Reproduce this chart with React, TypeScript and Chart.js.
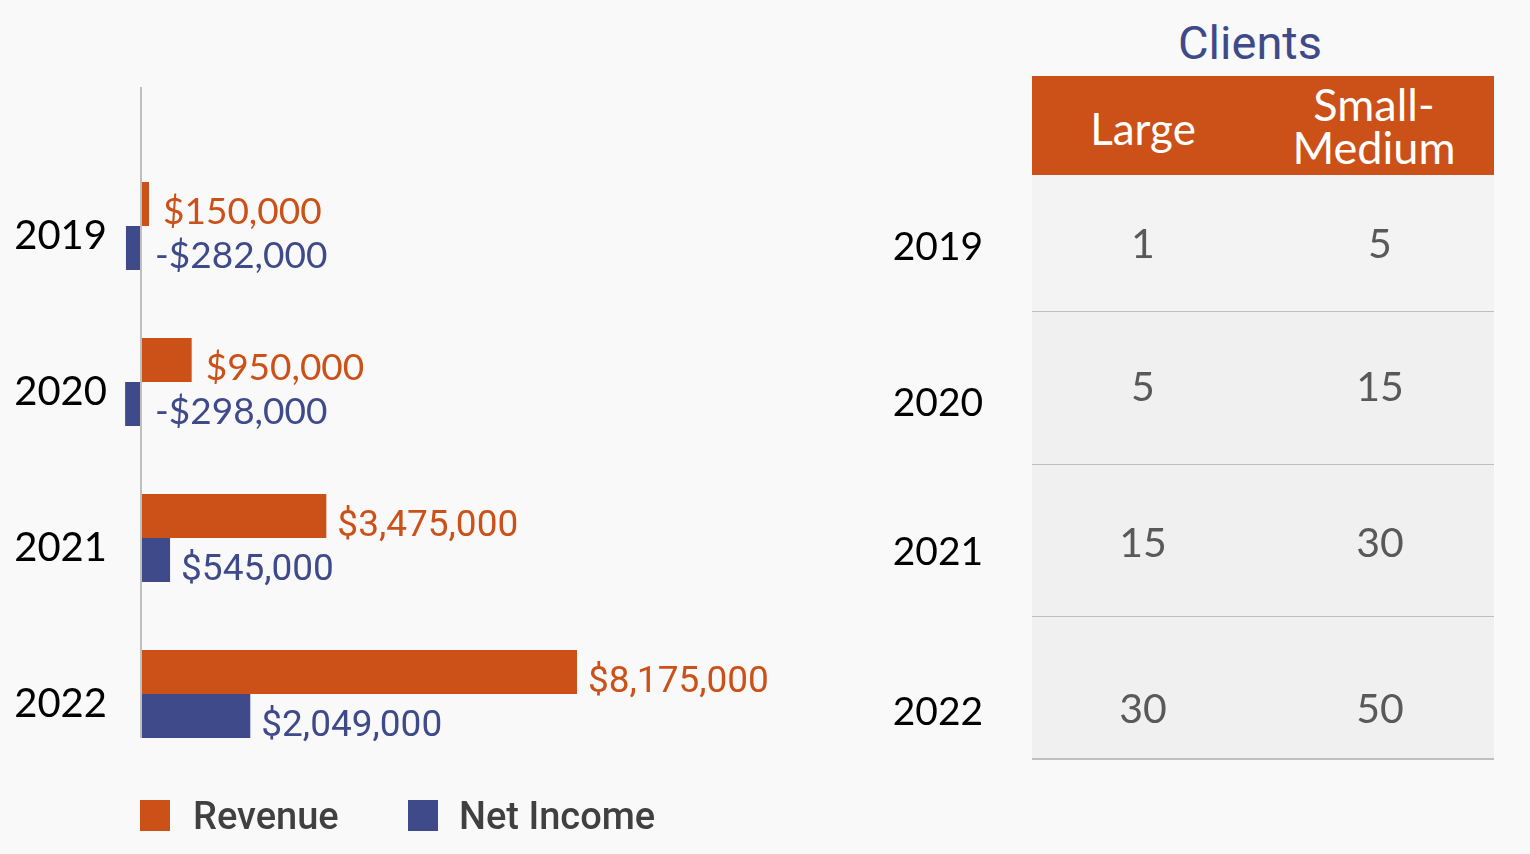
import React, { useEffect, useRef } from "react";
import { Chart, registerables } from "chart.js";

Chart.register(...registerables);

const years = ["2019", "2020", "2021", "2022"];
const revenue = [150000, 950000, 3475000, 8175000];
const netIncome = [-282000, -298000, 545000, 2049000];
const seriesNames = ["Revenue", "Net Income"];

const clientColumns = ["Large", "Small-\nMedium"];
const largeClients = [1, 5, 15, 30];
const smallMediumClients = [5, 15, 30, 50];

const ORANGE = "#CB5119";
const BLUE = "#3E4A89";
const BG = "#F9F9F9";

function fmt(v: number): string {
  const s = "$" + Math.abs(v).toLocaleString("en-US");
  return v < 0 ? "-" + s : s;
}

const overlayPlugin = {
  id: "overlay",
  afterDatasetsDraw(chart: any) {
    const ctx = chart.ctx;
    const xs = chart.scales.x;
    const ys = chart.scales.y;
    const zeroX = xs.getPixelForValue(0);
    const lastBlue = chart.getDatasetMeta(1).data[years.length - 1];
    const bottom = lastBlue.y + lastBlue.height / 2;
    ctx.save();
    // axis line
    ctx.strokeStyle = "#BFBFBF";
    ctx.lineWidth = 2;
    ctx.beginPath();
    ctx.moveTo(zeroX, 87);
    ctx.lineTo(zeroX, bottom);
    ctx.stroke();

    // category labels
    ctx.fillStyle = "#000000";
    ctx.font = "40px Lato";
    ctx.textAlign = "right";
    ctx.textBaseline = "alphabetic";
    years.forEach((y, i) => {
      const cy = ys.getPixelForValue(i) + 9;
      ctx.fillText(y, 107, cy + 40 * 0.36);
    });

    // value labels
    ctx.textAlign = "left";
    chart.data.datasets.forEach((ds: any, di: number) => {
      const meta = chart.getDatasetMeta(di);
      meta.data.forEach((bar: any, i: number) => {
        const v = ds.data[i];
        const startX = (v < 0 ? zeroX : bar.x) + (i < 2 ? 14 : 11);
        const fam = i < 2 ? "Lato" : "Roboto";
        const size = i < 2 ? 37 : 37;
        ctx.font = `${size}px ${fam}`;
        ctx.fillStyle = ds.backgroundColor;
        const cy = bar.y + 7;
        ctx.fillText(fmt(v), startX, cy + size * 0.36);
      });
    });

    // legend
    const legendItems = [
      { box: 140, text: 193 },
      { box: 408, text: 459 },
    ];
    ctx.font = "500 38px Roboto";
    chart.data.datasets.forEach((ds: any, di: number) => {
      const li = legendItems[di];
      ctx.fillStyle = ds.backgroundColor;
      ctx.fillRect(li.box, 800, 30, 31);
      ctx.fillStyle = "#404040";
      ctx.fillText(ds.label, li.text, 816 + 38 * 0.355);
    });
    ctx.restore();
  },
};

function BarChart() {
  const ref = useRef<HTMLCanvasElement | null>(null);
  useEffect(() => {
    if (!ref.current) return;
    const chart = new Chart(ref.current, {
      type: "bar",
      data: {
        labels: years,
        datasets: [
          {
            label: seriesNames[0],
            data: revenue,
            backgroundColor: ORANGE,
            categoryPercentage: 88 / 156,
            barPercentage: 1,
          },
          {
            label: seriesNames[1],
            data: netIncome,
            backgroundColor: BLUE,
            categoryPercentage: 88 / 156,
            barPercentage: 1,
          },
        ],
      },
      options: {
        indexAxis: "y",
        animation: false,
        responsive: true,
        maintainAspectRatio: false,
        layout: { padding: { top: 148, bottom: 82, left: 0, right: 0 } },
        plugins: { legend: { display: false }, tooltip: { enabled: false } },
        scales: {
          x: {
            display: false,
            min: -2643750,
            max: 13856250,
            grid: { display: false },
          },
          y: { display: false, grid: { display: false } },
        },
      } as any,
      plugins: [overlayPlugin],
    });
    return () => chart.destroy();
  }, []);
  return (
    <div style={{ position: "absolute", left: 0, top: 0, width: 880, height: 854 }}>
      <canvas ref={ref} />
    </div>
  );
}

const rowEdges = [175, 312, 465, 617, 759];
const numberY = [243, 386, 542, 708];
const yearY = [245, 401, 550, 710];

function Txt(props: { cx: number; cy: number; size: number; color: string; family: string; children: any; weight?: number }) {
  const lh = props.size * 1.2;
  return (
    <div
      style={{
        position: "absolute",
        left: props.cx - 150,
        width: 300,
        top: props.cy - lh / 2,
        height: lh,
        lineHeight: `${lh}px`,
        textAlign: "center",
        fontSize: props.size,
        fontFamily: props.family,
        color: props.color,
        fontWeight: props.weight ?? 400,
        whiteSpace: "nowrap",
      }}
    >
      {props.children}
    </div>
  );
}

function ClientsTable() {
  const [h1, h2] = clientColumns;
  const h2Lines = h2.split("\n");
  return (
    <>
      <Txt cx={1250} cy={43} size={47} color={BLUE} family="Roboto">
        Clients
      </Txt>
      <div style={{ position: "absolute", left: 1032, top: 76, width: 462, height: 99, background: ORANGE }} />
      <Txt cx={1143} cy={128} size={44} color="#FFFFFF" family="Lato">
        {h1}
      </Txt>
      <Txt cx={1374} cy={104} size={45} color="#FFFFFF" family="Lato">
        {h2Lines[0]}
      </Txt>
      <Txt cx={1374} cy={147} size={45} color="#FFFFFF" family="Lato">
        {h2Lines[1]}
      </Txt>
      {years.map((y, i) => (
        <React.Fragment key={y}>
          <div
            style={{
              position: "absolute",
              left: 1032,
              top: rowEdges[i],
              width: 462,
              height: rowEdges[i + 1] - rowEdges[i] - 1,
              background: i === 0 ? "#F3F3F3" : "#F0F0F0",
              borderBottom: "2px solid #BFBFBF",
            }}
          />
          <Txt cx={938} cy={yearY[i]} size={39} color="#000000" family="Lato">
            {y}
          </Txt>
          <Txt cx={1143} cy={numberY[i]} size={41} color="#595959" family="Lato">
            {largeClients[i]}
          </Txt>
          <Txt cx={1380} cy={numberY[i]} size={41} color="#595959" family="Lato">
            {smallMediumClients[i]}
          </Txt>
        </React.Fragment>
      ))}
    </>
  );
}

export default function App() {
  return (
    <div
      style={{
        position: "fixed",
        left: 0,
        top: 0,
        width: 1530,
        height: 854,
        background: BG,
        overflow: "hidden",
      }}
    >
      <BarChart />
      <ClientsTable />
    </div>
  );
}
